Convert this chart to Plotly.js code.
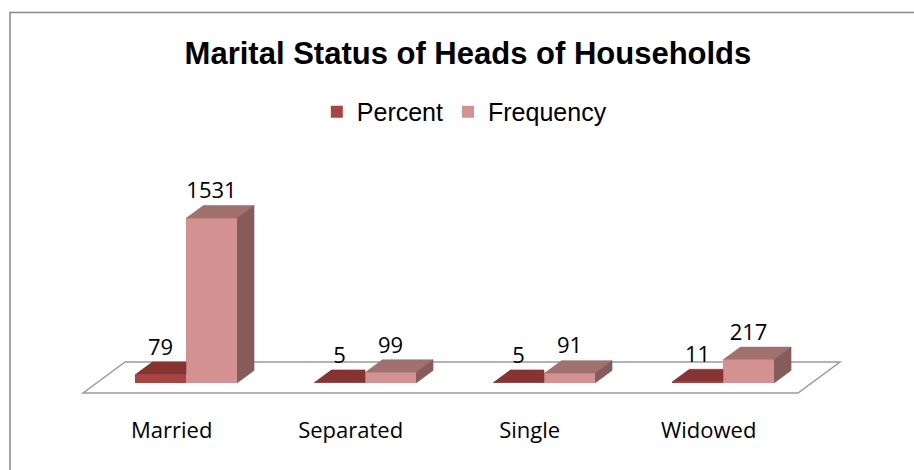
<!DOCTYPE html>
<html>
<head>
<meta charset="utf-8">
<script src="https://cdn.plot.ly/plotly-3.0.1.min.js"></script>
<style>html,body{margin:0;padding:0;background:#fff;}#chart{width:914px;height:470px;}</style>
</head>
<body>
<div id="chart"></div>
<script>
// ---- data ----
const categories = ['Married', 'Separated', 'Single', 'Widowed'];
const percentValues = [79, 5, 5, 11];
const frequencyValues = [1531, 99, 91, 217];
const seriesNames = ['Percent', 'Frequency'];

// ---- style / geometry constants (category units and value units) ----
const BAR_W = 0.285;          // width of one bar
const DEPTH_X = 0.095;        // 3D depth offset, x
const DEPTH_Y = 116;          // 3D depth offset, y (value units)
const LABEL_OFF = 235;        // label offset above bar front top
const TICK_SHIFT = 0.08;      // category label shift to floor front
const FLOOR_FRONT = -92.8;
const FLOOR_DX = 0.2346, FLOOR_DY = 287.7;
const FLOOR_LEFT = -0.575, FLOOR_RIGHT_PAD = 0.419;

const colors = {
  pctFront: '#AB4441', pctTop: '#873331',
  frqFront: '#D39291', frqTop: '#A0716F', frqSide: '#855C5A'
};

const idx = categories.map((_, i) => i);

function poly(builder) {
  const xs = [], ys = [];
  idx.forEach(i => {
    builder(i).forEach(p => { xs.push(p[0]); ys.push(p[1]); });
    xs.push(null); ys.push(null);
  });
  return {x: xs, y: ys};
}

const pctTop = poly(i => {
  const h = percentValues[i];
  return [[i - BAR_W, h], [i, h], [i, h + DEPTH_Y], [i - BAR_W + DEPTH_X, h + DEPTH_Y]];
});
const frqTop = poly(i => {
  const h = frequencyValues[i];
  return [[i, h], [i + BAR_W, h], [i + BAR_W + DEPTH_X, h + DEPTH_Y], [i + DEPTH_X, h + DEPTH_Y]];
});
const frqSide = poly(i => {
  const h = frequencyValues[i];
  return [[i + BAR_W, 0], [i + BAR_W + DEPTH_X, DEPTH_Y], [i + BAR_W + DEPTH_X, h + DEPTH_Y], [i + BAR_W, h]];
});

function face(p, color) {
  return {
    type: 'scatter', mode: 'lines', x: p.x, y: p.y, fill: 'toself',
    fillcolor: color, line: {color: color, width: 0.6},
    hoverinfo: 'skip', showlegend: false
  };
}

const labelFont = {family: 'Open Sans, sans-serif', size: 22, color: '#000'};

const data = [
  {
    type: 'bar', name: seriesNames[0],
    x: idx.map(i => i - BAR_W / 2), y: percentValues, width: BAR_W,
    marker: {color: colors.pctFront, line: {width: 0}}, hoverinfo: 'skip'
  },
  {
    type: 'bar', name: seriesNames[1],
    x: idx.map(i => i + BAR_W / 2), y: frequencyValues, width: BAR_W,
    marker: {color: colors.frqFront, line: {width: 0}}, hoverinfo: 'skip'
  },
  face(pctTop, colors.pctTop),
  face(frqTop, colors.frqTop),
  face(frqSide, colors.frqSide),
  {
    type: 'scatter', mode: 'text',
    x: idx.map(i => i - BAR_W / 2).concat(idx.map(i => i + BAR_W / 2)),
    y: percentValues.map(v => v + LABEL_OFF).concat(frequencyValues.map(v => v + LABEL_OFF)),
    text: percentValues.map(String).concat(frequencyValues.map(String)),
    textposition: 'middle center', textfont: labelFont,
    hoverinfo: 'skip', showlegend: false
  }
];

const n = categories.length;
const fx0 = FLOOR_LEFT, fx1 = (n - 1) + FLOOR_RIGHT_PAD;
const floorPath = 'M ' + fx0 + ',' + FLOOR_FRONT +
  ' L ' + (fx0 + FLOOR_DX) + ',' + (FLOOR_FRONT + FLOOR_DY) +
  ' L ' + (fx1 + FLOOR_DX) + ',' + (FLOOR_FRONT + FLOOR_DY) +
  ' L ' + fx1 + ',' + FLOOR_FRONT + ' Z';

const layout = {
  width: 914, height: 470,
  margin: {l: 0, r: 0, t: 0, b: 60, pad: 0},
  paper_bgcolor: '#fff', plot_bgcolor: 'rgba(0,0,0,0)',
  barmode: 'overlay',
  title: {
    text: 'Marital Status of Heads of Households',
    font: {family: 'Liberation Sans, Arial, sans-serif', size: 31, weight: 'bold', color: '#000'},
    x: 0.512, xanchor: 'center', xref: 'container',
    y: 0.887, yanchor: 'middle', yref: 'container'
  },
  showlegend: true,
  legend: {
    orientation: 'h', x: 0.508, xanchor: 'center', y: 0.727, yanchor: 'middle',
    font: {family: 'Liberation Sans, Arial, sans-serif', size: 25, color: '#000'},
    bgcolor: 'rgba(0,0,0,0)', itemclick: false, itemdoubleclick: false,
    traceorder: 'normal', itemwidth: 30
  },
  xaxis: {
    range: [-1.0391, 4.0670], showgrid: false, zeroline: false, showline: false,
    tickvals: idx.map(i => i - TICK_SHIFT), ticktext: categories, ticks: '',
    ticklabelstandoff: 5,
    tickfont: labelFont, fixedrange: true
  },
  yaxis: {
    range: [-250.5, 3553.9], visible: false, fixedrange: true
  },
  shapes: [
    {
      type: 'path', xref: 'x', yref: 'y', path: floorPath, layer: 'below',
      fillcolor: '#fff', line: {color: '#9a9a9a', width: 1.5}
    },
    {
      type: 'rect', xref: 'paper', yref: 'paper',
      x0: 10 / 914, x1: 1.02, y0: -0.3, y1: 1 - 12.5 / 410,
      line: {color: '#888', width: 1.5}, fillcolor: 'rgba(0,0,0,0)', layer: 'below'
    }
  ]
};

Plotly.newPlot('chart', data, layout, {staticPlot: true, displayModeBar: false});
</script>
</body>
</html>
